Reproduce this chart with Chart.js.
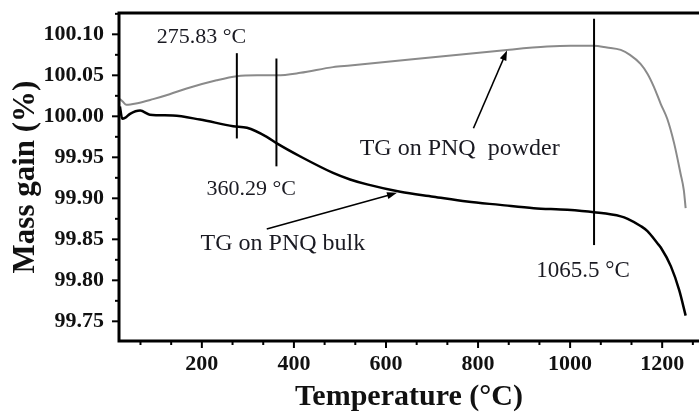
<!DOCTYPE html>
<html>
<head>
<meta charset="utf-8">
<script src="https://cdn.jsdelivr.net/npm/chart.js"></script>
<style>
  html, body { margin: 0; padding: 0; background: #fff; }
</style>
</head>
<body>
<canvas id="tgChart" width="699" height="415"></canvas>
<script>
// TG curves (temperature in °C, mass gain in %)
const powderTemp = [22, 28, 36, 60, 94, 130, 167, 232, 276, 320, 363, 414, 485, 522, 863, 950, 1001, 1051, 1080, 1110, 1130, 1153, 1168, 1182, 1197, 1211, 1226, 1240, 1247, 1251];
const powderMass = [100.021, 100.018, 100.014, 100.016, 100.021, 100.027, 100.034, 100.044, 100.049, 100.050, 100.050, 100.053, 100.060, 100.062, 100.081, 100.085, 100.086, 100.086, 100.084, 100.081, 100.075, 100.064, 100.052, 100.036, 100.015, 99.997, 99.967, 99.930, 99.910, 99.888];

const bulkTemp = [22, 27, 33, 44, 66, 87, 137, 196, 268, 298, 341, 363, 414, 485, 522, 559, 631, 703, 776, 848, 921, 994, 1052, 1110, 1125, 1154, 1168, 1190, 1197, 1219, 1237, 1251];
const bulkMass = [100.012, 99.997, 99.998, 100.003, 100.007, 100.002, 100.001, 99.996, 99.988, 99.986, 99.975, 99.967, 99.951, 99.931, 99.923, 99.917, 99.908, 99.902, 99.896, 99.892, 99.888, 99.886, 99.883, 99.878, 99.875, 99.866, 99.860, 99.845, 99.840, 99.817, 99.788, 99.757];

const xTicks = [200, 400, 600, 800, 1000, 1200];
const yTicks = [99.75, 99.80, 99.85, 99.90, 99.95, 100.00, 100.05, 100.10];

// vertical markers, arrows and text notes (data coordinates)
const markerLines = [
    { t: 276, from: 99.973, to: 100.077 },
    { t: 362, from: 99.939, to: 100.0705 },
    { t: 1052, from: 99.843, to: 100.119 }
];
const arrows = [
    { from: [790, 99.9854], to: [863, 100.0803] },
    { from: [341, 99.8625], to: [624, 99.9067] }
];
const notes = [
    { text: '275.83 °C', t: 199, m: 100.089, size: 22 },
    { text: '360.29 °C', t: 307, m: 99.904, size: 22 },
    { text: 'TG on PNQ bulk', t: 376, m: 99.837, size: 24 },
    { text: 'TG on PNQ  powder', t: 760, m: 99.9525, size: 24 },
    { text: '1065.5 °C', t: 1028, m: 99.804, size: 23 }
];

const serif = '"Liberation Serif", "Times New Roman", serif';

const decorations = {
    id: 'decorations',
    afterDatasetsDraw(chart) {
        const { ctx, chartArea: a, scales: { x, y } } = chart;
        ctx.save();
        ctx.strokeStyle = '#000';
        ctx.fillStyle = '#000';

        ctx.lineWidth = 2;
        markerLines.forEach(m => {
            const px = x.getPixelForValue(m.t);
            ctx.beginPath();
            ctx.moveTo(px, y.getPixelForValue(m.from));
            ctx.lineTo(px, y.getPixelForValue(m.to));
            ctx.stroke();
        });

        ctx.lineWidth = 1.6;
        arrows.forEach(ar => {
            const x0 = x.getPixelForValue(ar.from[0]), y0 = y.getPixelForValue(ar.from[1]);
            const x1 = x.getPixelForValue(ar.to[0]), y1 = y.getPixelForValue(ar.to[1]);
            const ang = Math.atan2(y1 - y0, x1 - x0);
            ctx.beginPath();
            ctx.moveTo(x0, y0);
            ctx.lineTo(x1 - 6 * Math.cos(ang), y1 - 6 * Math.sin(ang));
            ctx.stroke();
            ctx.beginPath();
            ctx.moveTo(x1, y1);
            ctx.lineTo(x1 - 10 * Math.cos(ang) + 3.5 * Math.sin(ang), y1 - 10 * Math.sin(ang) - 3.5 * Math.cos(ang));
            ctx.lineTo(x1 - 10 * Math.cos(ang) - 3.5 * Math.sin(ang), y1 - 10 * Math.sin(ang) + 3.5 * Math.cos(ang));
            ctx.closePath();
            ctx.fill();
        });

        ctx.fillStyle = '#1a1a22';
        ctx.textAlign = 'center';
        ctx.textBaseline = 'alphabetic';
        notes.forEach(n => {
            ctx.font = n.size + 'px ' + serif;
            ctx.fillText(n.text, x.getPixelForValue(n.t), y.getPixelForValue(n.m));
        });

        // frame: left, bottom, top (right side is cropped off in the original)
        ctx.lineWidth = 3;
        ctx.beginPath();
        ctx.moveTo(a.right, a.top);
        ctx.lineTo(a.left, a.top);
        ctx.lineTo(a.left, a.bottom);
        ctx.lineTo(a.right, a.bottom);
        ctx.stroke();

        // outward tick marks, major + minor
        ctx.lineWidth = 2;
        for (let i = 0; i * 200 / 3 <= x.max; i++) {
            const v = i * 200 / 3;
            if (v < x.min) continue;
            const len = i % 3 === 0 ? 7 : 4;
            const px = x.getPixelForValue(v);
            ctx.beginPath();
            ctx.moveTo(px, a.bottom);
            ctx.lineTo(px, a.bottom + len);
            ctx.stroke();
        }
        for (let i = 0; 99.70 + i * 0.025 <= y.max; i++) {
            const v = 99.70 + i * 0.025;
            if (v < y.min) continue;
            const len = i % 2 === 0 ? 7 : 4;
            const py = y.getPixelForValue(v);
            ctx.beginPath();
            ctx.moveTo(a.left, py);
            ctx.lineTo(a.left - len, py);
            ctx.stroke();
        }
        ctx.restore();
    }
};

new Chart(document.getElementById('tgChart'), {
    type: 'line',
    data: {
        datasets: [{
            label: 'TG on PNQ powder',
            data: powderTemp.map((t, i) => ({ x: t, y: powderMass[i] })),
            borderColor: '#8a8a8a',
            borderWidth: 2,
            pointRadius: 0,
            cubicInterpolationMode: 'monotone'
        }, {
            label: 'TG on PNQ bulk',
            data: bulkTemp.map((t, i) => ({ x: t, y: bulkMass[i] })),
            borderColor: '#000',
            borderWidth: 2.5,
            pointRadius: 0,
            cubicInterpolationMode: 'monotone'
        }]
    },
    options: {
        responsive: false,
        animation: false,
        layout: { padding: { top: 13, right: 0, left: 0, bottom: 0 } },
        plugins: {
            legend: { display: false },
            tooltip: { enabled: false }
        },
        scales: {
            x: {
                type: 'linear',
                min: 20,
                max: 1280,
                afterFit: s => { s.height = 74; s.paddingLeft = 0; s.paddingRight = 0; },
                afterBuildTicks: s => { s.ticks = xTicks.map(v => ({ value: v })); },
                grid: { display: false, drawTicks: false },
                border: { display: false },
                ticks: {
                    padding: 10,
                    color: '#111',
                    font: { family: serif, weight: 'bold', size: 22 },
                    callback: v => String(v)
                },
                title: {
                    display: true,
                    text: 'Temperature (°C)',
                    color: '#111',
                    padding: { top: 0, bottom: 0 },
                    font: { family: serif, weight: 'bold', size: 30, lineHeight: 1.2 }
                }
            },
            y: {
                min: 99.726,
                max: 100.126,
                afterFit: s => { s.width = 119; s.paddingTop = 0; s.paddingBottom = 0; },
                afterBuildTicks: s => { s.ticks = yTicks.map(v => ({ value: v })); },
                grid: { display: false, drawTicks: false },
                border: { display: false },
                ticks: {
                    padding: 15,
                    color: '#111',
                    font: { family: serif, weight: 'bold', size: 22 },
                    callback: v => v.toFixed(2)
                },
                title: {
                    display: true,
                    text: 'Mass gain (%)',
                    color: '#111',
                    padding: { top: 7, bottom: 0 },
                    font: { family: serif, weight: 'bold', size: 31, lineHeight: 1.2 }
                }
            }
        }
    },
    plugins: [decorations]
});
</script>
</body>
</html>
